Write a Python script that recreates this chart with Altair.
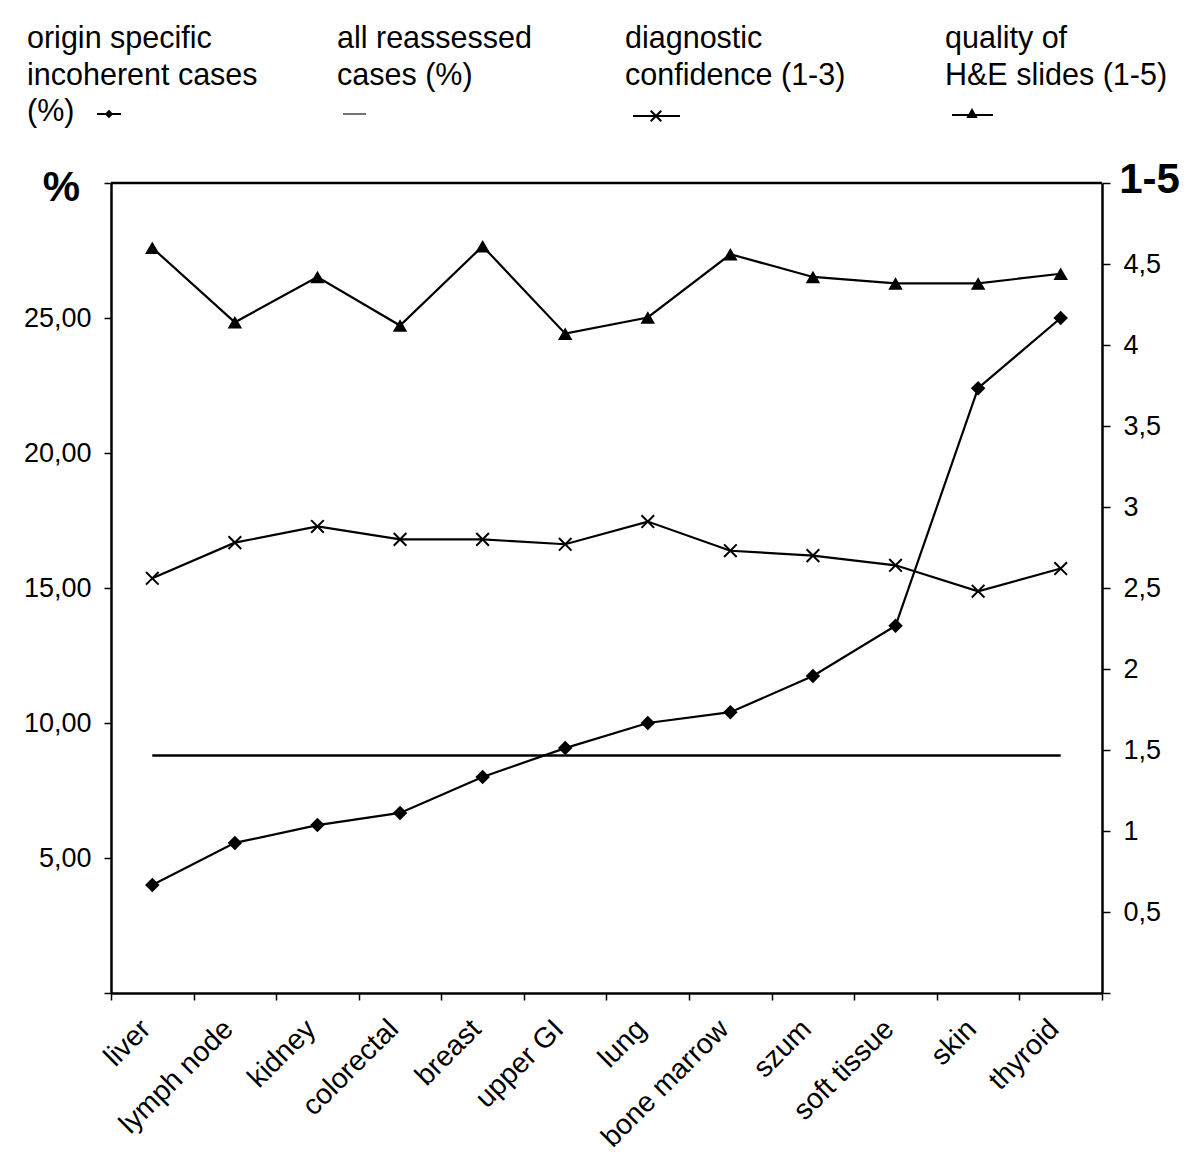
import altair as alt
import pandas as pd

categories = ["liver", "lymph node", "kidney", "colorectal", "breast", "upper GI",
              "lung", "bone marrow", "szum", "soft tissue", "skin", "thyroid"]
origin_pct = [4.0, 5.56, 6.22, 6.67, 8.0, 9.07, 10.0, 10.4, 11.74, 13.6, 22.4, 25.0]
reassessed_pct = [8.8] * 12
confidence = [2.56, 2.78, 2.88, 2.80, 2.80, 2.77, 2.91, 2.73, 2.70, 2.64, 2.48, 2.62]
quality = [4.60, 4.14, 4.42, 4.12, 4.61, 4.07, 4.17, 4.56, 4.42, 4.38, 4.38, 4.44]

left_ticks = [0, 5, 10, 15, 20, 25, 30]
right_ticks = [0, 0.5, 1, 1.5, 2, 2.5, 3, 3.5, 4, 4.5, 5]

legend_texts = [
    ["origin specific", "incoherent cases", "(%)"],
    ["all reassessed", "cases (%)"],
    ["diagnostic", "confidence (1-3)"],
    ["quality of", "H&E slides (1-5)"],
]

df = pd.DataFrame({
    "cat": categories,
    "origin": origin_pct,
    "reassessed": reassessed_pct,
    "confidence": confidence,
    "quality": quality,
})

FONT = "Liberation Sans"
W, H = 991, 810

x_enc = alt.X("cat:N", sort=categories, bandPosition=0.5,
              scale=alt.Scale(type="band", paddingInner=0, paddingOuter=0),
              axis=alt.Axis(title=None, labelAngle=-45, labelFontSize=28.5, labelFont=FONT,
                            labelColor="black", tickBand="extent", tickSize=7,
                            tickColor="black", tickWidth=1.5, domainColor="black",
                            domainWidth=2.5, labelPadding=24, labelOffset=-7, labelAlign="right",
                            labelBaseline="middle"))

left_axis = alt.Axis(values=left_ticks, orient="left", title="%", titleAngle=0,
                     titleFontSize=42, titleFont=FONT, titleFontWeight="bold",
                     titleX=-50, titleY=4, titleAlign="center", titleBaseline="middle",
                     labelExpr="(datum.value == 0 || datum.value == 30) ? '' : replace(format(datum.value, '.2f'), '.', ',')",
                     labelFontSize=27, labelFont=FONT, labelColor="black", labelPadding=13,
                     tickSize=7, tickColor="black", tickWidth=1.5, domainColor="black",
                     domainWidth=2.5, grid=False)
right_axis = alt.Axis(values=right_ticks, orient="right", title="1-5", titleAngle=0,
                      titleFontSize=42, titleFont=FONT, titleFontWeight="bold",
                      titleX=47, titleY=-4, titleAlign="center", titleBaseline="middle",
                      labelExpr="(datum.value == 0 || datum.value == 5) ? '' : replace(toString(datum.value), '.', ',')",
                      labelFontSize=27, labelFont=FONT, labelColor="black", labelPadding=13,
                      tickSize=8, tickColor="black", tickWidth=1.5, domainColor="black",
                      domainWidth=2.5, grid=False)

y_left = lambda f: alt.Y(f"{f}:Q", scale=alt.Scale(domain=[0, 30], nice=False, zero=True), axis=left_axis)
y_right = lambda f: alt.Y(f"{f}:Q", scale=alt.Scale(domain=[0, 5], nice=False, zero=True), axis=right_axis)

base = alt.Chart(df)

origin_line = base.mark_line(color="black", strokeWidth=2.2).encode(x=x_enc, y=y_left("origin"))
origin_pts = base.mark_point(shape="diamond", filled=True, color="black", size=210, opacity=1).encode(x=x_enc, y=y_left("origin"))
reass_line = base.mark_line(color="black", strokeWidth=2.5).encode(x=x_enc, y=y_left("reassessed"))

xpath = "M-1,-1L1,1M-1,1L1,-1"
conf_line = base.mark_line(color="black", strokeWidth=2.2).encode(x=x_enc, y=y_right("confidence"))
conf_pts = base.mark_point(shape=xpath, filled=False, color="black", strokeWidth=2, size=160, opacity=1).encode(x=x_enc, y=y_right("confidence"))
qual_line = base.mark_line(color="black", strokeWidth=2.2).encode(x=x_enc, y=y_right("quality"))
qual_pts = base.mark_point(shape="triangle-up", filled=True, color="black", size=210, opacity=1).encode(x=x_enc, y=y_right("quality"))

left = alt.layer(origin_line, reass_line, origin_pts)
right = alt.layer(conf_line, qual_line, conf_pts, qual_pts)
main = alt.layer(left, right).resolve_scale(y="independent")

one = alt.Data(values=[{"k": 1}])

# plot frame top edge
frame_top = alt.Chart(one).mark_rule(color="black", strokeWidth=2.5).encode(
    x=alt.value(0), x2=alt.value(W), y=alt.value(0))

# custom legend
leg_x = [-84, 226, 514, 834]
legend_layers = []
for txt, lx in zip(legend_texts, leg_x):
    legend_layers.append(
        alt.Chart(one).mark_text(align="left", baseline="top", fontSize=30.5, font=FONT,
                                 color="black", lineHeight=36.5, text=txt)
        .encode(x=alt.value(lx), y=alt.value(-159))
    )
seg = [(-14, 10, -69), (232, 255, -69), (522, 569, -67), (841, 882, -68)]
for i, (a, b, yy) in enumerate(seg):
    legend_layers.append(
        alt.Chart(one).mark_rule(color="#000000" if i != 1 else "#444444",
                                 strokeWidth=2 if i != 1 else 1.5)
        .encode(x=alt.value(a), x2=alt.value(b), y=alt.value(yy))
    )
legend_layers.append(alt.Chart(one).mark_point(shape="diamond", filled=True, color="black", size=70, opacity=1)
                     .encode(x=alt.value(-2), y=alt.value(-69)))
legend_layers.append(alt.Chart(one).mark_point(shape=xpath, filled=False, color="black", strokeWidth=2, size=110, opacity=1)
                     .encode(x=alt.value(545), y=alt.value(-67)))
legend_layers.append(alt.Chart(one).mark_point(shape="triangle-up", filled=True, color="black", size=130, opacity=1)
                     .encode(x=alt.value(861), y=alt.value(-70)))

chart = alt.layer(main, frame_top, *legend_layers).properties(
    width=W, height=H,
    autosize=alt.AutoSizeParams(type="none"),
    padding={"left": 103, "top": 175, "right": 90, "bottom": 170},
).configure_view(stroke="black", strokeWidth=2).configure(font=FONT, background="white")

chart.save("out.html", embed_options={"renderer": "svg", "actions": False})
